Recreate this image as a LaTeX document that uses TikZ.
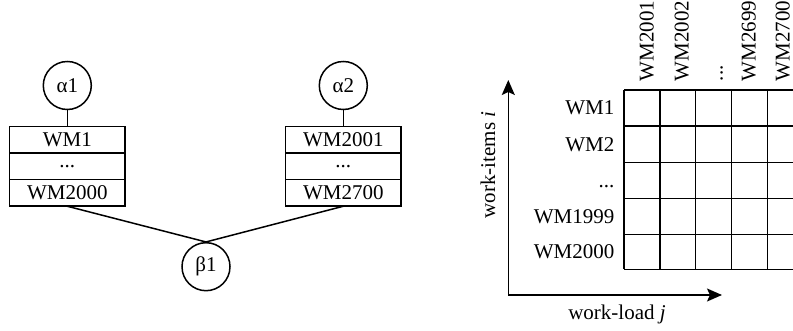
\documentclass[tikz,border=0pt]{standalone}
\usepackage{fontspec}
\setmainfont{Liberation Serif}
\usetikzlibrary{arrows.meta}
\begin{document}
\begin{tikzpicture}[x=1pt,y=-1pt,line width=1.5pt,
  every node/.style={font=\fontsize{21}{25}\selectfont},
  circ/.style={draw,circle,minimum size=48pt,inner sep=0pt},
  cell/.style={draw,minimum width=115.5pt,minimum height=26.5pt,inner sep=0pt,outer sep=0pt},
  rowlab/.style={anchor=base east,inner sep=0pt},
  collab/.style={anchor=base west,rotate=90,inner sep=0pt},
  axis/.style={-{Stealth[length=15pt,width=13pt,inset=3pt]}}]
\useasboundingbox (0,0) rectangle (793,331);
% left tree
\node[circ] (a1) at (67.3,85.5) {α1};
\node[circ] (a2) at (343.3,85.5) {α2};
\node[circ] (b1) at (206,266.7) {β1};
\node[cell] (r11) at (67.3,140) {WM1};
\node[cell,anchor=north] (r12) at (r11.south) {\raisebox{-0.2ex}{...}};
\node[cell,anchor=north] (r13) at (r12.south) {WM2000};
\node[cell] (r21) at (343.3,140) {WM2001};
\node[cell,anchor=north] (r22) at (r21.south) {\raisebox{-0.2ex}{...}};
\node[cell,anchor=north] (r23) at (r22.south) {WM2700};
\draw (a1) -- (r11);
\draw (a2) -- (r21);
\draw (r13.south) -- (b1.north);
\draw (r23.south) -- (b1.north);
% grid
\begin{scope}
\clip (600,80) rectangle (793,280);
\foreach \y in {90,126,162.5,198.5,234.3,269.5} \draw (624,\y) -- (800,\y);
\foreach \x in {624,660,695.5,731.3,767.3} \draw (\x,90) -- (\x,269.5);
\end{scope}
% row labels
\node[rowlab] (l1) at (615,115) {WM1};
\node[rowlab] (l2) at (615,151.3) {WM2};
\node[rowlab] (l3) at (615,187.7) {...};
\node[rowlab] (l4) at (615,223.5) {WM1999};
\node[rowlab] (l5) at (615,258.8) {WM2000};
% column labels
\node[collab] (c1) at (653.5,82) {WM2001};
\node[collab] (c2) at (688.5,82) {WM2002};
\node[collab] (c3) at (722.5,82) {...};
\node[collab] (c4) at (755.5,82) {WM2699};
\node[collab] (c5) at (789.5,82) {WM2700};
% axes
\coordinate (o) at (508.3,295);
\coordinate (ytip) at (508.3,80);
\coordinate (xtip) at (722,295);
\draw[axis] (o) -- (ytip);
\draw[axis] (o) -- (xtip);
\node (xl) at (617,314) {work-load \textit{j}};
\node[rotate=90,anchor=base,inner sep=0pt] (yl) at (495,165) {work-items \textit{i}};
\end{tikzpicture}
\end{document}
